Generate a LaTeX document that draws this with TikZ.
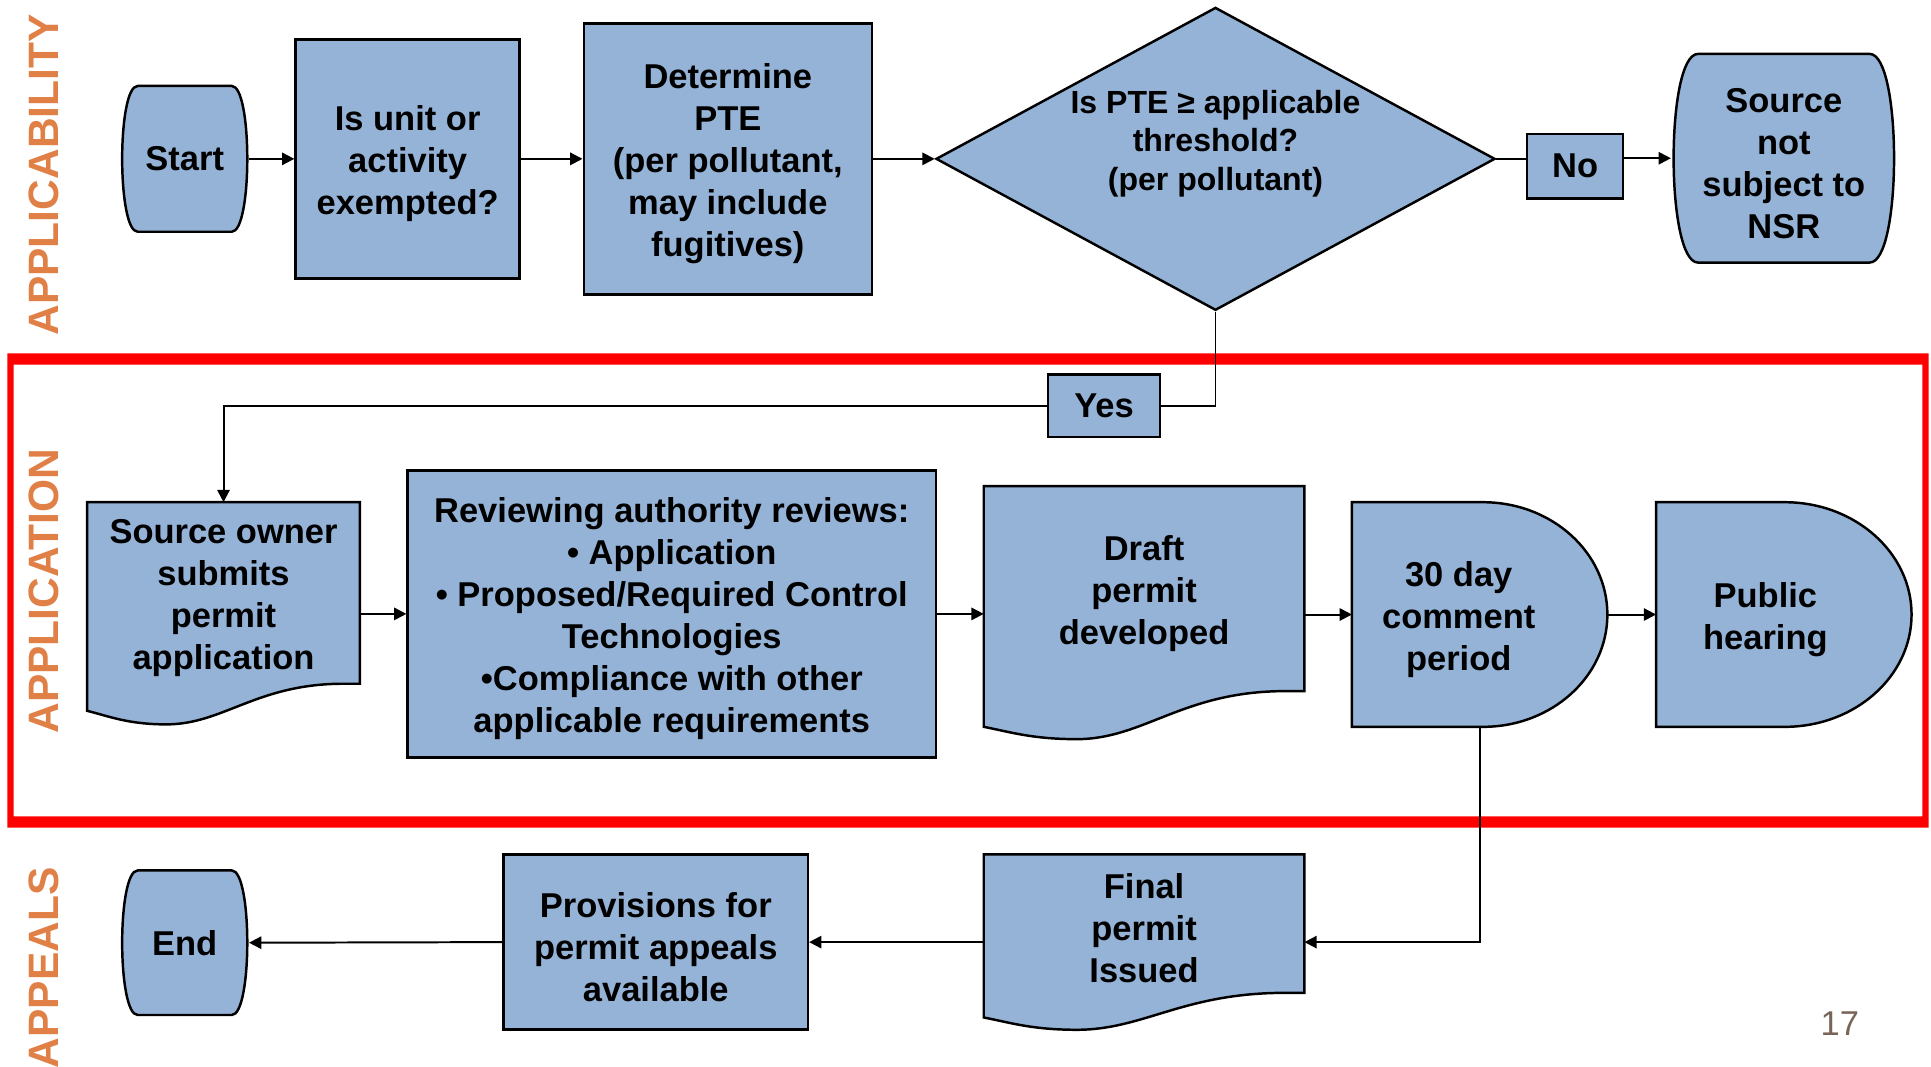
\documentclass[tikz,border=0pt]{standalone}
\usepackage{fontspec}
\setmainfont{Liberation Sans}
\usetikzlibrary{arrows.meta,positioning,calc,shapes.geometric,backgrounds}
\definecolor{boxblue}{HTML}{95B3D7}
\definecolor{phaseorange}{HTML}{E08046}
\definecolor{pagegray}{HTML}{786458}

% room above the first line, as the slide sets it
\newcommand{\topstrut}{\rule{0pt}{1em}}

\tikzset{
  txt/.style={align=center,inner sep=0pt,font=\bfseries\fontsize{28}{34}\selectfont},
  box/.style={txt,draw,fill=boxblue,line width=2pt},
  shp/.style={draw,fill=boxblue,line width=2pt},
  conn/.style={line width=1.6pt},
  arr/.style={conn,-{Triangle[length=10pt,width=10pt]}},
  phase/.style={rotate=90,inner sep=0pt,text=phaseorange,font=\bfseries\fontsize{34.5}{40}\selectfont}
}

% terminator with bulging sides
\newcommand{\bulge}[2]{%
  \path[shp] let \p1=(#1.south west), \p2=(#1.north east) in
    ({\x1+#2},\y2) -- ({\x2-#2},\y2)
    .. controls ({\x2+0.2*#2},\y2) and ({\x2+0.2*#2},\y1) .. ({\x2-#2},\y1)
    -- ({\x1+#2},\y1)
    .. controls ({\x1-0.2*#2},\y1) and ({\x1-0.2*#2},\y2) .. cycle;}
% document with wavy bottom
\newcommand{\docwave}[3]{%
  \path[shp] let \p1=(#1.south west), \p2=(#1.north east), \n1={\x2-\x1} in
    (\x1,\y2) -- (\x2,\y2) -- (\x2,\y1) -- ({\x2-0.06*\n1},\y1)
    .. controls ({\x1+0.62*\n1},\y1) and ({\x1+0.5*\n1},{\y1-#3}) .. ({\x1+0.29*\n1},{\y1-#3})
    .. controls ({\x1+0.15*\n1},{\y1-#3}) and ({\x1+0.08*\n1},{\y1-#2-0.4*(#3-#2)}) .. (\x1,{\y1-#2})
    -- cycle;}
% delay (D) shape
\newcommand{\delay}[2]{%
  \path[shp] let \p1=(#1.south west), \p2=(#1.north east), \n1={(\y2-\y1)/2} in
    (\x1,\y2) -- ({\x2-#2},\y2) arc[start angle=90,end angle=-90,x radius=#2,y radius={\n1*1pt}]
    -- (\x1,\y1) -- cycle;}

\begin{document}
\begin{tikzpicture}[x=1pt,y=-1pt]
\useasboundingbox (0,0) rectangle (1568,866);

% phase frame and side labels
\fill[red,even odd rule] (6,287) rectangle (1566,672) (11,296) rectangle (1561,663);
\node[phase] (ph-appl) at (36,142) {APPLICABILITY};
\node[phase] (ph-app) at (36,480) {APPLICATION};
\node[phase] (ph-appeal) at (36,786) {APPEALS};

% applicability row
\node[txt,minimum width=104,minimum height=118] (start) at (150,129) {Start};
\node[box,minimum width=182,minimum height=194] (exempt) at (331,129) {\topstrut Is unit or\\activity\\exempted?};
\node[box,minimum width=234,minimum height=220] (pte) at (591,129) {\topstrut Determine\\PTE\\(per pollutant,\\may include\\fugitives)};
\node[diamond,draw,fill=boxblue,line width=2pt,inner sep=0pt,minimum width=454,minimum height=246] (thr) at (987,129) {};
\node[txt,font=\bfseries\fontsize{26}{31}\selectfont] (thr-t) at ([yshift=16pt]thr.center) {\topstrut Is PTE ≥ applicable\\threshold?\\(per pollutant)};
\node[box,minimum width=78,minimum height=52] (no) at (1279,135) {No};
\node[txt,minimum width=183,minimum height=169] (nsr) at (1448.5,128.5) {\topstrut Source\\not\\subject to\\NSR};
\node[box,minimum width=91,minimum height=51] (yes) at (896.5,329.5) {Yes};

% application row
\node[txt,minimum width=221,minimum height=147] (src) at (181.5,481.5) {\topstrut Source owner\\submits\\permit\\application};
\node[box,minimum width=429,minimum height=233] (rev) at (545.5,498.5) {\topstrut Reviewing authority reviews:\\• Application\\• Proposed/Required Control\\Technologies\\•Compliance with other\\applicable requirements};
\node[txt,minimum width=260,minimum height=166] (draft) at (929,478) {\topstrut Draft\\permit\\developed};
\node[txt,minimum width=207,minimum height=182] (day) at (1201.5,499) {};
\node[txt] (day-t) at ([xshift=-17pt]day.center) {\topstrut 30 day\\comment\\period};
\node[txt,minimum width=207,minimum height=182] (hear) at (1448.5,499) {};
\node[txt] (hear-t) at ([xshift=-15pt]hear.center) {\topstrut Public\\hearing};

% appeals row
\node[txt,minimum width=104,minimum height=117] (endn) at (150,765.5) {End};
\node[box,minimum width=247,minimum height=142] (prov) at (532.5,765) {\topstrut Provisions for\\permit appeals\\available};
\node[txt,minimum width=260,minimum height=112] (final) at (929,750) {\topstrut Final\\permit\\Issued};

\begin{scope}[on background layer]
  \bulge{start}{14pt}
  \bulge{nsr}{22pt}
  \bulge{endn}{14pt}
  \docwave{src}{22pt}{33pt}
  \docwave{draft}{29pt}{39pt}
  \docwave{final}{20pt}{30pt}
  \delay{day}{101pt}
  \delay{hear}{103pt}
\end{scope}

% connectors
\draw[arr] (start.east) -- (exempt.west);
\draw[arr] (exempt.east) -- (pte.west);
\draw[arr] (pte.east) -- (thr.west);
\draw[conn] (thr.east) -- (no.west |- thr.east);
\draw[arr] (no.east |- nsr.west) -- (nsr.west);
\draw[conn] (thr.south) |- (yes.east);
\draw[arr] (yes.west) -| (src.north);
\draw[arr] (src.east |- rev.west) -- (rev.west);
\draw[arr] (rev.east) -- (draft.west |- rev.east);
\draw[arr] (draft.east |- day.west) -- (day.west);
\draw[arr] (day.east) -- (hear.west);
\draw[arr] (day.south) |- (final.east |- prov.east);
\draw[arr] (final.west |- prov.east) -- (prov.east);
\draw[arr] (prov.west) -- (endn.east);

\node[text=pagegray,font=\fontsize{28}{34}\selectfont] (pg) at (1494,831) {17};
\end{tikzpicture}
\end{document}
